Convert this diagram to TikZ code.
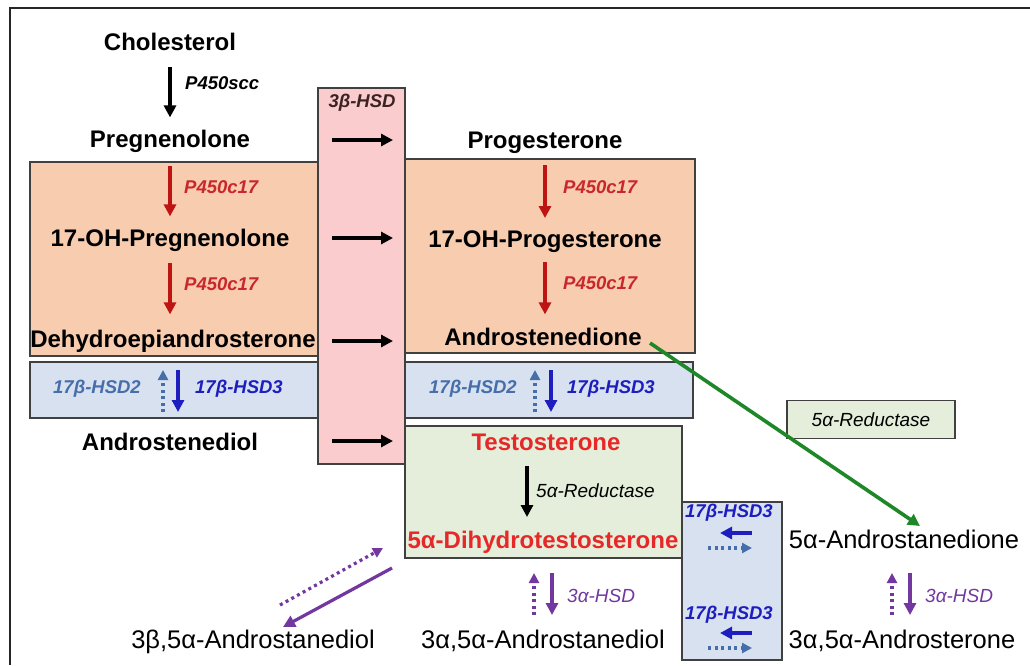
\documentclass[tikz,border=0pt]{standalone}
\usepackage{fontspec}
\setmainfont{Liberation Sans}
\usetikzlibrary{arrows.meta}
\definecolor{peach}{RGB}{248,204,174}
\definecolor{pinkbox}{RGB}{250,204,205}
\definecolor{bluebox}{RGB}{216,225,240}
\definecolor{greenbox}{RGB}{228,238,218}
\definecolor{boxline}{RGB}{64,64,64}
\definecolor{darkred}{RGB}{190,20,20}
\definecolor{labred}{RGB}{200,40,45}
\definecolor{txtred}{RGB}{230,40,40}
\definecolor{steel}{RGB}{70,110,170}
\definecolor{dblue}{RGB}{30,30,190}
\definecolor{purp}{RGB}{115,55,160}
\definecolor{grn}{RGB}{30,135,40}
\definecolor{hsdcol}{RGB}{60,35,35}
\tikzset{
  box/.style={draw=boxline, line width=1.5pt},
  cmpd/.style={font=\fontsize{24}{28}\selectfont\bfseries, inner sep=0pt, anchor=base},
  cmpr/.style={font=\fontsize{25.5}{29}\selectfont, inner sep=0pt, anchor=base},
  enz/.style={font=\fontsize{18.5}{21}\selectfont\bfseries\itshape, inner sep=0pt, anchor=base west},
  enzr/.style={font=\fontsize{19}{22}\selectfont\itshape, inner sep=0pt, anchor=base west},
  arr/.style={line width=3.2pt, -{Triangle[length=12pt,width=12pt]}},
  darr/.style={line width=3.2pt, dash pattern=on 3pt off 3.5pt, -{Triangle[length=10pt,width=10pt]}},
}
\begin{document}
\begin{tikzpicture}[x=1pt,y=-1pt]
\useasboundingbox (0,0) rectangle (1030,665);
\fill[white] (0,0) rectangle (1030,665);
% outer frame
\draw[line width=2.2pt, black!85] (10,665) -- (10,8) -- (1030,8);

% background boxes
\draw[box, fill=peach] (30,162) rectangle (318,356);
\draw[box, fill=peach] (405,159) rectangle (695,353);
\draw[box, fill=bluebox] (30,362) rectangle (318,418);
\draw[box, fill=bluebox] (405,362) rectangle (693,418);
\draw[box, fill=greenbox] (405,426) rectangle (682,558);
\draw[box, fill=bluebox] (682,502) rectangle (782,660);
\draw[box, fill=pinkbox] (318,88) rectangle (405,464);
\node[box, fill=greenbox, minimum width=168pt, minimum height=38pt, inner sep=0pt,
      font=\fontsize{19}{22}\selectfont\itshape] (red5box) at (871,419.5) {5α-Reductase};

% compounds
\node[cmpd] (chol) at (170,50) {Cholesterol};
\node[cmpd] (preg) at (170,147) {Pregnenolone};
\node[cmpd] (ohpreg) at (170,246) {17-OH-Pregnenolone};
\node[cmpd] (dhea) at (173,347) {Dehydroepiandrosterone};
\node[cmpd] (adiol) at (170,450) {Androstenediol};
\node[cmpd] (prog) at (545,148) {Progesterone};
\node[cmpd] (ohprog) at (545,247) {17-OH-Progesterone};
\node[cmpd] (andro) at (543,345) {Androstenedione};
\node[cmpd, text=txtred] (testo) at (546,450) {Testosterone};
\node[cmpd, text=txtred] (dht) at (543,548) {5α-Dihydrotestosterone};
\node[cmpr] (b5adiol) at (253,648) {3β,5α-Androstanediol};
\node[cmpr] (a5adiol) at (543,648) {3α,5α-Androstanediol};
\node[cmpr] (adione) at (904,548) {5α-Androstanedione};
\node[cmpr] (aster) at (902,648) {3α,5α-Androsterone};

% enzyme labels
\node[enz] (scc) at (185,89) {P450scc};
\node[enz, text=labred] (c17a) at (184,193) {P450c17};
\node[enz, text=labred] (c17b) at (184,290) {P450c17};
\node[enz, text=labred] (c17c) at (563,193) {P450c17};
\node[enz, text=labred] (c17d) at (563,289) {P450c17};
\node[enz, text=hsdcol, anchor=base] (hsd3b) at (362,107) {3β-HSD};
\node[enz, text=steel] (h2a) at (53,393) {17β-HSD2};
\node[enz, text=dblue] (h3a) at (195,393) {17β-HSD3};
\node[enz, text=steel] (h2b) at (429,393) {17β-HSD2};
\node[enz, text=dblue] (h3b) at (567,393) {17β-HSD3};
\node[enz, text=dblue] (h3c) at (685,517) {17β-HSD3};
\node[enz, text=dblue] (h3d) at (685,619) {17β-HSD3};
\node[enzr] (red5) at (536,497) {5α-Reductase};
\node[enzr, text=purp] (ahsd1) at (567,602) {3α-HSD};
\node[enzr, text=purp] (ahsd2) at (925,602) {3α-HSD};

% vertical chain arrows
\draw[arr, shorten <=17pt, shorten >=12pt] (chol) -- (preg);
\draw[arr, darkred, shorten <=14pt, shorten >=12pt] (preg) -- (ohpreg);
\draw[arr, darkred, shorten <=12pt, shorten >=15pt] (ohpreg) -- (dhea.north -| ohpreg);
\draw[arr, darkred, shorten <=12pt, shorten >=12pt] (prog) -- (ohprog);
\draw[arr, darkred, shorten <=10pt, shorten >=13pt] (ohprog) -- (ohprog |- andro.north);

% 3beta-HSD horizontal arrows
\coordinate (p1a) at (332,140); \coordinate (p1b) at (393,140);
\coordinate (p2a) at (332,238); \coordinate (p2b) at (393,238);
\coordinate (p3a) at (332,341); \coordinate (p3b) at (393,341);
\coordinate (p4a) at (332,441); \coordinate (p4b) at (393,441);
\draw[arr] (p1a) -- (p1b);
\draw[arr] (p2a) -- (p2b);
\draw[arr] (p3a) -- (p3b);
\draw[arr] (p4a) -- (p4b);

% 17beta-HSD arrows in blue boxes
\coordinate (l1t) at (163,370); \coordinate (l1b) at (163,412);
\coordinate (l2t) at (178,370); \coordinate (l2b) at (178,412);
\draw[darr, steel] (l1b) -- (l1t);
\draw[arr, dblue] (l2t) -- (l2b);
\coordinate (r1t) at (535,370); \coordinate (r1b) at (535,412);
\coordinate (r2t) at (551,370); \coordinate (r2b) at (551,412);
\draw[darr, steel] (r1b) -- (r1t);
\draw[arr, dblue] (r2t) -- (r2b);

% 5alpha-reductase (T -> DHT)
\coordinate (t1) at (527,466); \coordinate (t2) at (527,517);
\draw[arr] (t1) -- (t2);

% DHT <-> 3a,5a-androstanediol
\coordinate (m1t) at (534,573); \coordinate (m1b) at (534,615);
\coordinate (m2t) at (552,573); \coordinate (m2b) at (552,615);
\draw[darr, purp] (m1b) -- (m1t);
\draw[arr, purp] (m2t) -- (m2b);

% 5a-androstanedione <-> androsterone
\coordinate (n1t) at (892,573); \coordinate (n1b) at (892,615);
\coordinate (n2t) at (910,573); \coordinate (n2b) at (910,615);
\draw[darr, purp] (n1b) -- (n1t);
\draw[arr, purp] (n2t) -- (n2b);

% 17beta-HSD3 horizontal pairs
\coordinate (s1a) at (752,533); \coordinate (s1b) at (720,533);
\coordinate (s2a) at (708,548); \coordinate (s2b) at (752,548);
\coordinate (s3a) at (752,633); \coordinate (s3b) at (720,633);
\coordinate (s4a) at (708,648); \coordinate (s4b) at (752,648);
\draw[arr, dblue] (s1a) -- (s1b);
\draw[darr, steel] (s2a) -- (s2b);
\draw[arr, dblue] (s3a) -- (s3b);
\draw[darr, steel] (s4a) -- (s4b);

% green arrow androstenedione -> 5a-androstanedione
\coordinate (g1) at (650,343); \coordinate (g2) at (920,526);
\draw[arr, grn, line width=3.6pt] (g1) -- (g2);

% purple diagonal arrows DHT <-> 3b,5a-androstanediol
\coordinate (d1a) at (280,605); \coordinate (d1b) at (383,548);
\coordinate (d2a) at (392,568); \coordinate (d2b) at (283,627);
\draw[darr, purp] (d1a) -- (d1b);
\draw[arr, purp] (d2a) -- (d2b);
\end{tikzpicture}
\end{document}
